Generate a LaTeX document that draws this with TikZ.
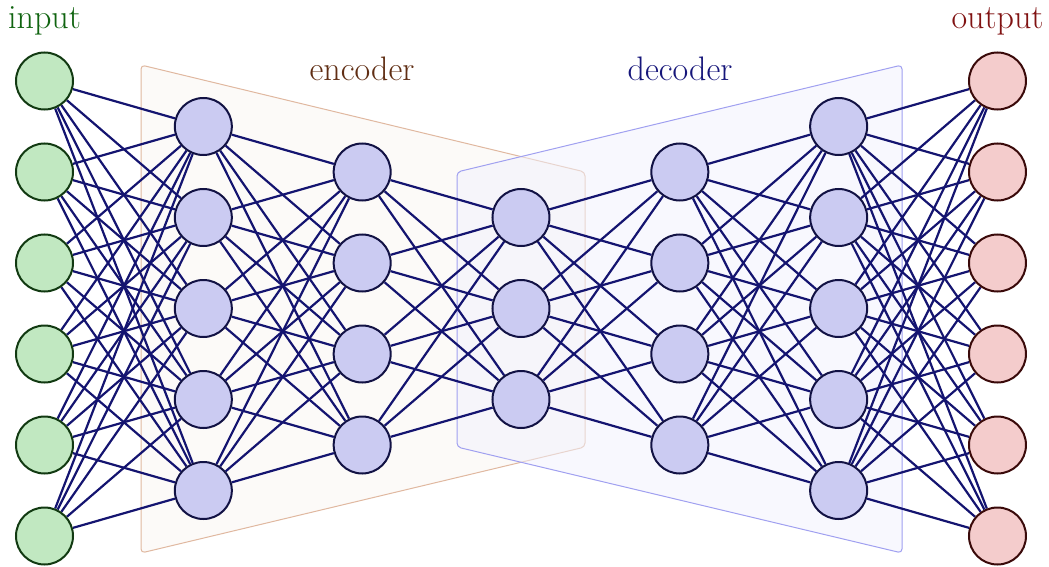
\documentclass[tikz,border=0pt]{standalone}
\definecolor{infill}{RGB}{193,232,193}
\definecolor{indraw}{RGB}{18,58,18}
\definecolor{hidfill}{RGB}{203,203,242}
\definecolor{hiddraw}{RGB}{18,18,68}
\definecolor{outfill}{RGB}{244,204,204}
\definecolor{outdraw}{RGB}{58,10,10}
\definecolor{edgecol}{RGB}{20,20,112}
\definecolor{encfill}{RGB}{252,250,248}
\definecolor{encdraw}{RGB}{224,184,160}
\definecolor{decfill}{RGB}{241,241,253}
\definecolor{decdraw}{RGB}{160,160,240}
\definecolor{intext}{RGB}{16,100,16}
\definecolor{enctext}{RGB}{96,46,20}
\definecolor{dectext}{RGB}{22,22,122}
\definecolor{outtext}{RGB}{128,18,18}
\pgfdeclarelayer{bgbg}
\pgfdeclarelayer{bg}
\pgfsetlayers{bgbg,bg,main}
\begin{document}
\begin{tikzpicture}[x=0.5pt,y=-0.5pt,
  neuron/.style={circle, minimum size=28.5pt, inner sep=0pt, line width=1pt},
  innode/.style={neuron, fill=infill, draw=indraw},
  hidnode/.style={neuron, fill=hidfill, draw=hiddraw},
  outnode/.style={neuron, fill=outfill, draw=outdraw},
  conn/.style={draw=edgecol, line width=1.1pt},
  lbl/.style={font=\fontsize{17}{20}\selectfont, anchor=base, inner sep=0pt}]
\useasboundingbox (0,0) rectangle (1049,567);
\begin{pgfonlayer}{bgbg}
\draw[encdraw, fill=encfill, rounded corners=2pt, line width=0.5pt]
  (141,65) -- (585,172) -- (585,447) -- (141,553) -- cycle;
\draw[decdraw, fill=decfill, fill opacity=0.5, rounded corners=2pt, line width=0.5pt]
  (457,172) -- (902,65) -- (902,553) -- (457,447) -- cycle;
\end{pgfonlayer}
\foreach \l/\n in {0/6,1/5,2/4,3/3,4/4,5/5,6/6}{
  \foreach \i in {1,...,\n}{
    \pgfmathsetmacro\xx{44.5+158.83*\l}
    \pgfmathsetmacro\yy{308.5+(\i-(\n+1)/2)*91}
    \ifnum\l=0
      \node[innode] (N\l-\i) at (\xx,\yy) {};
    \else\ifnum\l=6
      \node[outnode] (N\l-\i) at (\xx,\yy) {};
    \else
      \node[hidnode] (N\l-\i) at (\xx,\yy) {};
    \fi\fi
  }
}
\begin{pgfonlayer}{bg}
\foreach \l/\n/\m in {0/6/5,1/5/4,2/4/3,3/3/4,4/4/5,5/5/6}{
  \pgfmathtruncatemacro\k{\l+1}
  \foreach \i in {1,...,\n}{
    \foreach \j in {1,...,\m}{
      \draw[conn] (N\l-\i) -- (N\k-\j);
    }
  }
}
\end{pgfonlayer}
\node[lbl, text=intext] (inlbl) at (44.5,29) {input};
\node[lbl, text=outtext] (outlbl) at (997.5,29) {output};
\node[lbl, text=enctext] (enclbl) at (362,81) {encoder};
\node[lbl, text=dectext] (declbl) at (680,81) {decoder};
\end{tikzpicture}
\end{document}
